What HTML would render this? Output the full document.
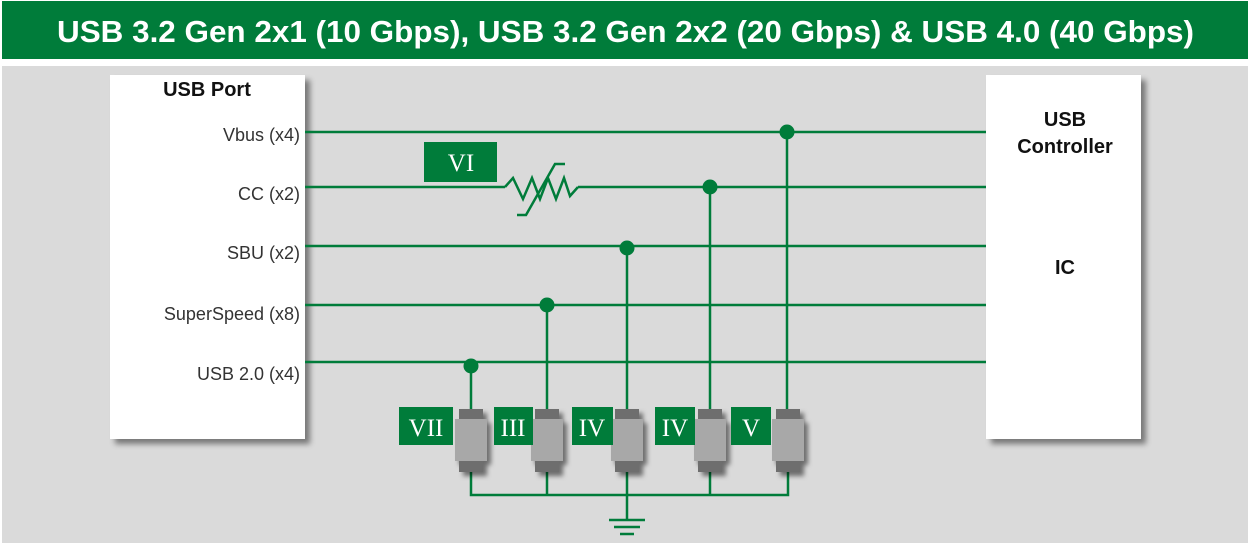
<!DOCTYPE html>
<html><head><meta charset="utf-8"><style>
html,body{margin:0;padding:0;background:#fff;width:1250px;height:543px;overflow:hidden}
svg{display:block}
</style></head><body>
<svg width="1250" height="543" viewBox="0 0 1250 543" xmlns="http://www.w3.org/2000/svg">
<defs>
<filter id="sh" x="-10%" y="-10%" width="130%" height="130%"><feDropShadow dx="5" dy="5" stdDeviation="3" flood-color="#000" flood-opacity="0.45"/></filter>
<filter id="sh2" x="-50%" y="-20%" width="200%" height="150%"><feDropShadow dx="4" dy="4" stdDeviation="2.5" flood-color="#000" flood-opacity="0.5"/></filter>
</defs>
<rect x="2" y="1" width="1246" height="58" fill="#007c3a"/>
<text x="57" y="42" textLength="1137" lengthAdjust="spacingAndGlyphs" font-family="Liberation Sans, sans-serif" font-weight="bold" font-size="31" fill="#fff">USB 3.2 Gen 2x1 (10 Gbps), USB 3.2 Gen 2x2 (20 Gbps) &amp; USB 4.0 (40 Gbps)</text>
<rect x="2" y="66" width="1246" height="477" fill="#dadada"/>
<rect x="110" y="75" width="195" height="364" fill="#fff" filter="url(#sh)"/>
<rect x="986" y="75" width="155" height="364" fill="#fff" filter="url(#sh)"/>
<g font-family="Liberation Sans, sans-serif" font-size="18" fill="#333" text-anchor="end">
<text x="300" y="141">Vbus (x4)</text>
<text x="300" y="200">CC (x2)</text>
<text x="300" y="259">SBU (x2)</text>
<text x="300" y="320">SuperSpeed (x8)</text>
<text x="300" y="380">USB 2.0 (x4)</text>
</g>
<g font-family="Liberation Sans, sans-serif" font-size="20" font-weight="bold" fill="#111" text-anchor="middle">
<text x="207" y="96">USB Port</text>
<text x="1065" y="126">USB</text>
<text x="1065" y="153">Controller</text>
<text x="1065" y="274">IC</text>
</g>
<g stroke="#007c3a" stroke-width="2.5" fill="none">
<line x1="305" y1="132" x2="986" y2="132"/>
<line x1="305" y1="187" x2="505" y2="187"/>
<polyline points="505,187 513,178 523,199 532,178 540,199 548,178 556,199 564,178 570,196 578,187"/>
<line x1="578" y1="187" x2="986" y2="187"/>
<polyline points="517,215 526,215 555,164 565,164"/>
<line x1="305" y1="246" x2="986" y2="246"/>
<line x1="305" y1="305" x2="986" y2="305"/>
<line x1="305" y1="362" x2="986" y2="362"/>
<line x1="471" y1="366" x2="471" y2="410"/>
<line x1="547" y1="305" x2="547" y2="410"/>
<line x1="627" y1="246" x2="627" y2="410"/>
<line x1="710" y1="187" x2="710" y2="410"/>
<line x1="787" y1="132" x2="787" y2="410"/>
<polyline points="471,470 471,495 788,495 788,470"/>
<line x1="547" y1="470" x2="547" y2="495"/>
<line x1="710" y1="470" x2="710" y2="495"/>
<line x1="627" y1="470" x2="627" y2="520"/>
<line x1="609" y1="520" x2="645" y2="520"/>
<line x1="614" y1="527" x2="640" y2="527"/>
<line x1="620" y1="534" x2="634" y2="534"/>
</g>
<g fill="#007c3a">
<circle cx="787" cy="132" r="7.5"/>
<circle cx="710" cy="187" r="7.5"/>
<circle cx="627" cy="248" r="7.5"/>
<circle cx="547" cy="305" r="7.5"/>
<circle cx="471" cy="366" r="7.5"/>
</g>
<g filter="url(#sh2)">
<rect x="459" y="409" width="24" height="10" fill="#6e6e6e"/><rect x="459" y="461" width="24" height="11" fill="#6e6e6e"/><rect x="455" y="419" width="32" height="42" fill="#a8a8a8"/>
<rect x="535" y="409" width="24" height="10" fill="#6e6e6e"/><rect x="535" y="461" width="24" height="11" fill="#6e6e6e"/><rect x="531" y="419" width="32" height="42" fill="#a8a8a8"/>
<rect x="615" y="409" width="24" height="10" fill="#6e6e6e"/><rect x="615" y="461" width="24" height="11" fill="#6e6e6e"/><rect x="611" y="419" width="32" height="42" fill="#a8a8a8"/>
<rect x="698" y="409" width="24" height="10" fill="#6e6e6e"/><rect x="698" y="461" width="24" height="11" fill="#6e6e6e"/><rect x="694" y="419" width="32" height="42" fill="#a8a8a8"/>
<rect x="776" y="409" width="24" height="10" fill="#6e6e6e"/><rect x="776" y="461" width="24" height="11" fill="#6e6e6e"/><rect x="772" y="419" width="32" height="42" fill="#a8a8a8"/>
</g>
<g fill="#007c3a">
<rect x="424" y="142" width="73" height="40"/>
<rect x="399" y="407" width="54" height="38"/>
<rect x="494" y="407" width="39" height="38"/>
<rect x="572" y="407" width="41" height="38"/>
<rect x="655" y="407" width="40" height="38"/>
<rect x="731" y="407" width="40" height="38"/>
</g>
<g font-family="Liberation Serif, serif" font-size="25" fill="#fff" text-anchor="middle">
<text x="461" y="171">VI</text>
<text x="426" y="436">VII</text>
<text x="513" y="436">III</text>
<text x="592" y="436">IV</text>
<text x="675" y="436">IV</text>
<text x="751" y="436">V</text>
</g>
</svg>
</body></html>
